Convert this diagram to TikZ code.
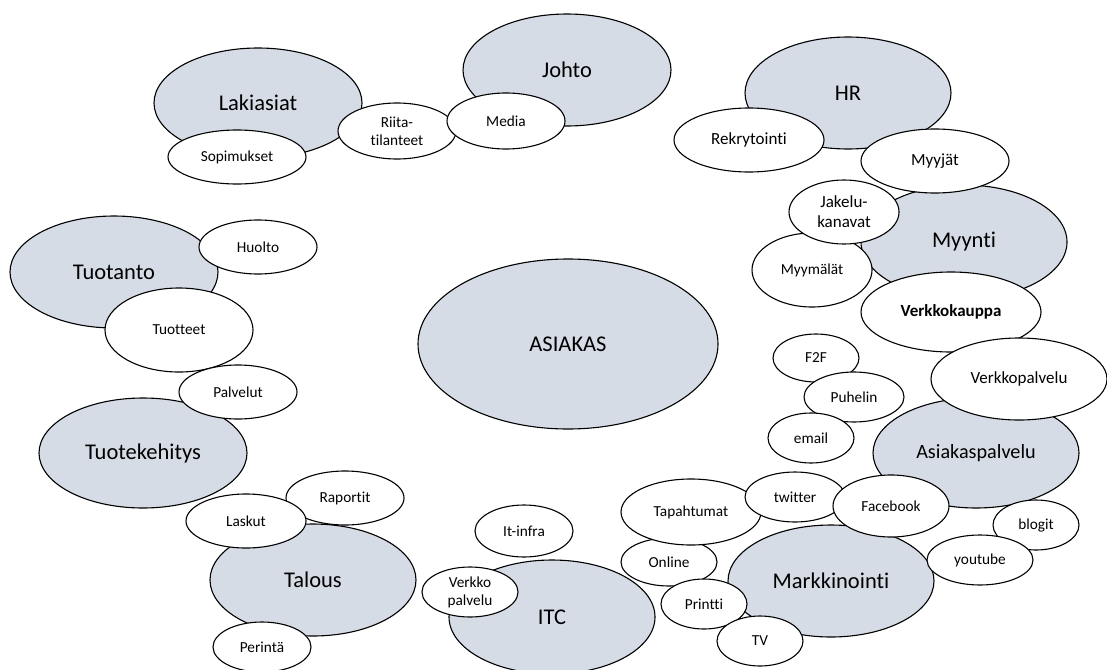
\documentclass[tikz,border=0pt]{standalone}
\usepackage{fontspec}
\setmainfont{Carlito}[Ligatures=NoCommon]
\usetikzlibrary{shapes.geometric}
\definecolor{bluegray}{HTML}{D6DCE5}
\tikzset{
  dims/.style 2 args={minimum width=#1pt, minimum height=#2pt},
  area/.style={ellipse, draw=black, line width=1.1pt, fill=bluegray, inner sep=0pt,
    font=\fontsize{22.5}{26}\selectfont},
  topic/.style={ellipse, draw=black, line width=1.1pt, fill=white, inner sep=0pt,
    align=center, font=\fontsize{15.3}{18}\selectfont},
  bigtopic/.style={topic, font=\fontsize{17}{20}\selectfont},
}
\begin{document}
\begin{tikzpicture}[x=1pt, y=-1pt]
  \fill[white] (0,0) rectangle (1107,669);
  \useasboundingbox (0,0) rectangle (1107,669);

  % centre
  \node[area, dims={300}{170}] (asiakas) at (568,344) {ASIAKAS};

  % legal and management
  \node[area, dims={208}{110}] (lakiasiat) at (258,103) {Lakiasiat};
  \node[area, dims={208}{112}] (johto) at (567,70) {Johto};
  \node[topic, dims={138}{54}] (sopimukset) at (237,157) {Sopimukset};
  \node[topic, dims={118}{56}] (riita) at (397,131) {Riita-\\tilanteet};
  \node[topic, dims={118}{56}] (media) at (506,121) {Media};

  % HR and sales
  \node[area, dims={206}{112}] (hr) at (848,93) {HR};
  \node[bigtopic, dims={150}{64}] (rekry) at (749,140) {Rekrytointi};
  \node[area, dims={206}{114}] (myynti) at (964,242) {Myynti};
  \node[bigtopic, dims={148}{64}] (myyjat) at (935,161) {Myyjät};
  \node[topic, dims={120}{74}] (myymalat) at (812,270) {Myymälät};
  \node[bigtopic, dims={110}{64}] (jakelu) at (844,212) {Jakelu-\\kanavat};
  \node[bigtopic, dims={180}{80}, font=\fontsize{17}{20}\selectfont\bfseries] (verkkokauppa) at (951,312) {Verkkokauppa};

  % customer service
  \node[area, dims={206}{110}, font=\fontsize{20.2}{24}\selectfont] (asiakaspalvelu) at (976,453) {Asiakaspalvelu};
  \node[bigtopic, dims={176}{82}] (verkkopalvelu) at (1019,379) {Verkkopalvelu};
  \node[topic, dims={86}{48}] (f2f) at (816,358) {F2F};
  \node[topic, dims={100}{50}] (puhelin) at (854,397) {Puhelin};
  \node[topic, dims={86}{50}] (email) at (811,438) {email};

  % marketing
  \node[area, dims={206}{112}] (markkinointi) at (831,581) {Markkinointi};
  \node[topic, dims={86}{50}] (blogit) at (1036,525) {blogit};
  \node[topic, dims={106}{50}] (youtube) at (980,560) {youtube};
  \node[topic, dims={96}{48}] (online) at (669,562) {Online};
  \node[topic, dims={140}{66}] (tapahtumat) at (691,512) {Tapahtumat};
  \node[topic, dims={100}{50}] (twitter) at (795,497) {twitter};
  \node[topic, dims={116}{62}] (facebook) at (891,506) {Facebook};
  \node[topic, dims={86}{50}] (printti) at (704,604) {Printti};
  \node[topic, dims={86}{50}] (tv) at (760,641) {TV};

  % finance
  \node[area, dims={206}{112}] (talous) at (313,580) {Talous};
  \node[topic, dims={118}{54}] (raportit) at (345,498) {Raportit};
  \node[topic, dims={120}{54}] (laskut) at (246,521) {Laskut};
  \node[topic, dims={98}{50}] (perinta) at (262,647) {Perintä};

  % ICT
  \node[area, dims={206}{114}] (itc) at (552,617) {ITC};
  \node[topic, dims={98}{52}] (itinfra) at (524,531) {It-infra};
  \node[topic, dims={96}{50}] (verkkopalvelu2) at (470,592) {Verkko\\palvelu};

  % production and development
  \node[area, dims={208}{112}] (tuotanto) at (114,272) {Tuotanto};
  \node[topic, dims={118}{54}] (huolto) at (258,247) {Huolto};
  \node[topic, dims={148}{84}] (tuotteet) at (179,330) {Tuotteet};
  \node[area, dims={208}{110}] (tuotekehitys) at (143,453) {Tuotekehitys};
  \node[topic, dims={118}{54}] (palvelut) at (238,392) {Palvelut};
\end{tikzpicture}
\end{document}
